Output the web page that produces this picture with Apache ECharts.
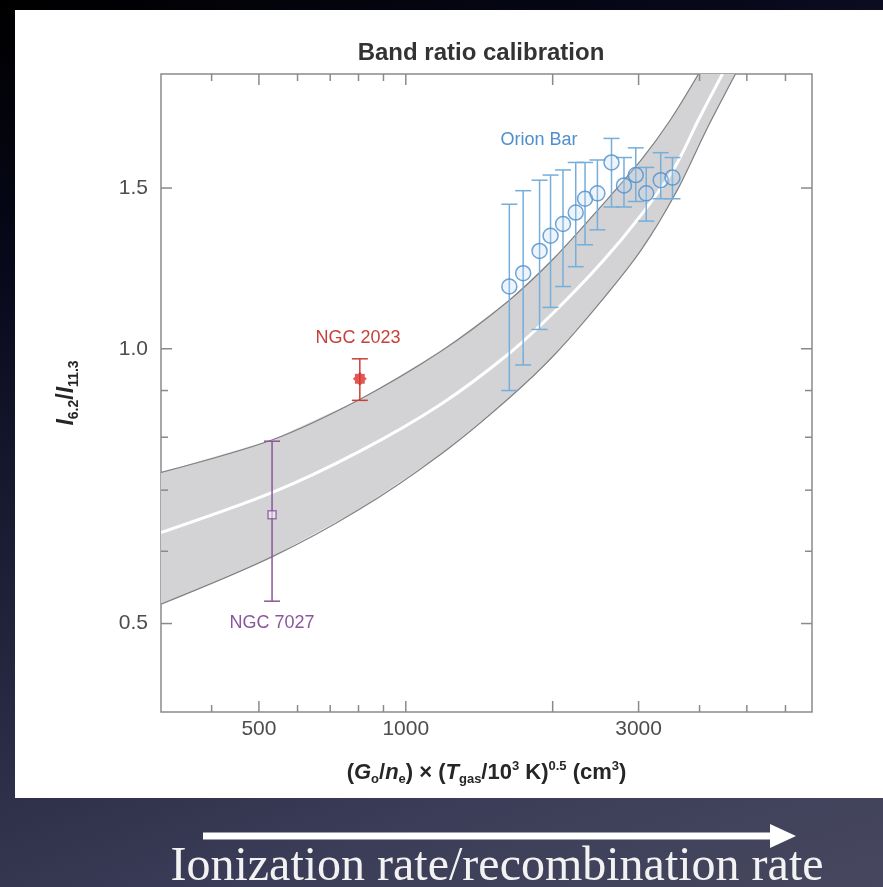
<!DOCTYPE html>
<html><head><meta charset="utf-8">
<script src="https://cdn.jsdelivr.net/npm/echarts@6/dist/echarts.min.js"></script>
<style>
html,body{margin:0;padding:0;width:883px;height:887px;overflow:hidden;}
body{background:linear-gradient(160deg,#000 0%,#07081a 22%,#1f2139 50%,#3b3c57 80%,#47485f 100%);}
#panel{position:absolute;left:15px;top:10px;width:868px;height:788px;background:#fff;}
#chart{position:absolute;left:0;top:0;width:883px;height:887px;}
</style></head>
<body><div id="panel"></div><div id="chart"></div>
<script>
// ---- axes ----
const X_MIN = 315, X_MAX = 6800, Y_MIN = 0.4, Y_MAX = 2.0;
const xTicks = [400, 500, 600, 700, 800, 900, 1000, 2000, 3000, 4000, 5000, 6000];
const xMajorTicks = [500, 1000, 2000, 3000];
const xTickLabels = [500, 1000, 3000];
const yTicks = [0.5, 0.6, 0.7, 0.8, 0.9, 1.0, 1.5];
const yMajorTicks = [0.5, 1.0, 1.5];
const yTickLabels = [0.5, 1.0, 1.5];

// ---- calibration band ----
const upperX = [315, 533, 804, 1178, 1616, 2017, 2530, 3040, 3487, 3980];
const upperY = [0.732, 0.795, 0.880, 0.993, 1.126, 1.258, 1.438, 1.611, 1.782, 2.0];
const centerX = [315, 533, 804, 1178, 1616, 2017, 2530, 3040, 3554, 3980, 4456];
const centerY = [0.629, 0.696, 0.772, 0.869, 0.985, 1.098, 1.246, 1.403, 1.579, 1.782, 2.0];
const lowerX = [315, 533, 804, 1178, 1616, 2017, 2530, 3040, 3605, 4133, 4739];
const lowerY = [0.525, 0.592, 0.667, 0.766, 0.880, 0.985, 1.132, 1.284, 1.494, 1.738, 2.0];

// ---- Orion Bar ----
const orionX    = [1630, 1740, 1880, 1980, 2100, 2230, 2330, 2470, 2640, 2800, 2960, 3110, 3330, 3520];
const orionY    = [1.17, 1.21, 1.28, 1.33, 1.37, 1.41, 1.46, 1.48, 1.60, 1.51, 1.55, 1.48, 1.53, 1.54];
const orionLow  = [0.90, 0.96, 1.05, 1.11, 1.17, 1.23, 1.30, 1.35, 1.43, 1.43, 1.45, 1.38, 1.46, 1.46];
const orionHigh = [1.44, 1.49, 1.53, 1.55, 1.57, 1.60, 1.60, 1.61, 1.70, 1.62, 1.66, 1.58, 1.64, 1.62];

// ---- NGC 2023 ----
const ngc2023X = [805], ngc2023Y = [0.927], ngc2023Low = [0.878], ngc2023High = [0.975];
// ---- NGC 7027 ----
const ngc7027X = [532], ngc7027Y = [0.658], ngc7027Low = [0.529], ngc7027High = [0.792];

const AXIS_COLOR = '#8a8a8a';
const LABEL_COLOR = '#4d4d4d';
const FONT = '"Liberation Sans", Arial, sans-serif';
const STAR = 'path://M0,-10L2.87,-6.93L7.07,-7.07L6.93,-2.87L10,0L6.93,2.87L7.07,7.07L2.87,6.93L0,10L-2.87,6.93L-7.07,7.07L-6.93,2.87L-10,0L-6.93,-2.87L-7.07,-7.07L-2.87,-6.93Z';

function zip(a, b) { return a.map((v, i) => [v, b[i]]); }

function errorSeries(xs, ys, lo, hi, color, capW) {
  return {
    type: 'custom', silent: true, z: 4, clip: true,
    data: xs.map((x, i) => [x, ys[i], lo[i], hi[i]]),
    renderItem(params, api) {
      const x = api.value(0);
      const p1 = api.coord([x, api.value(2)]);
      const p2 = api.coord([x, api.value(3)]);
      const st = { stroke: color, lineWidth: 1.5 };
      return { type: 'group', children: [
        { type: 'line', shape: { x1: p1[0], y1: p1[1], x2: p2[0], y2: p2[1] }, style: st },
        { type: 'line', shape: { x1: p1[0] - capW / 2, y1: p1[1], x2: p1[0] + capW / 2, y2: p1[1] }, style: st },
        { type: 'line', shape: { x1: p2[0] - capW / 2, y1: p2[1], x2: p2[0] + capW / 2, y2: p2[1] }, style: st }
      ]};
    }
  };
}

const xTickSeries = {
  type: 'custom', silent: true, z: 6, clip: false,
  data: xTicks.map(v => [v, Y_MIN]),
  renderItem(params, api) {
    const v = api.value(0);
    const len = xMajorTicks.includes(v) ? 11 : 7;
    const b = api.coord([v, Y_MIN]), t = api.coord([v, Y_MAX]);
    const st = { stroke: AXIS_COLOR, lineWidth: 1.5 };
    const ch = [
      { type: 'line', shape: { x1: b[0], y1: b[1], x2: b[0], y2: b[1] - len }, style: st },
      { type: 'line', shape: { x1: t[0], y1: t[1], x2: t[0], y2: t[1] + len }, style: st }
    ];
    if (xTickLabels.includes(v)) {
      ch.push({ type: 'text', x: b[0], y: b[1] + 7, style: { text: String(v), fill: LABEL_COLOR,
        font: '21px ' + FONT, textAlign: 'center', textVerticalAlign: 'top' } });
    }
    return { type: 'group', children: ch };
  }
};

const yTickSeries = {
  type: 'custom', silent: true, z: 6, clip: false,
  data: yTicks.map(v => [X_MIN, v]),
  renderItem(params, api) {
    const v = api.value(1);
    const len = yMajorTicks.includes(v) ? 11 : 7;
    const l = api.coord([X_MIN, v]), r = api.coord([X_MAX, v]);
    const st = { stroke: AXIS_COLOR, lineWidth: 1.5 };
    const ch = [
      { type: 'line', shape: { x1: l[0], y1: l[1], x2: l[0] + len, y2: l[1] }, style: st },
      { type: 'line', shape: { x1: r[0], y1: r[1], x2: r[0] - len, y2: r[1] }, style: st }
    ];
    if (yTickLabels.includes(v)) {
      ch.push({ type: 'text', x: l[0] - 13, y: l[1], style: { text: v.toFixed(1), fill: LABEL_COLOR,
        font: '21px ' + FONT, textAlign: 'right', textVerticalAlign: 'middle' } });
    }
    return { type: 'group', children: ch };
  }
};

const bandSeries = {
  type: 'custom', silent: true, z: 1, clip: true,
  data: [[upperX[0], upperY[0]]],
  renderItem(params, api) {
    const up = upperX.map((x, i) => api.coord([x, upperY[i]]));
    const lo = lowerX.map((x, i) => api.coord([x, lowerY[i]]));
    const ce = centerX.map((x, i) => api.coord([x, centerY[i]]));
    return { type: 'group', children: [
      { type: 'polygon', shape: { points: up.concat(lo.slice().reverse()) }, style: { fill: '#d3d3d5' } },
      { type: 'polyline', shape: { points: up, smooth: 0.3 }, style: { stroke: '#808080', lineWidth: 1.2, fill: null } },
      { type: 'polyline', shape: { points: lo, smooth: 0.3 }, style: { stroke: '#808080', lineWidth: 1.2, fill: null } },
      { type: 'polyline', shape: { points: ce, smooth: 0.3 }, style: { stroke: '#ffffff', lineWidth: 3, fill: null } }
    ]};
  }
};

const baseAxis = {
  type: 'log', logBase: 10,
  axisLine: { show: false }, axisTick: { show: false }, axisLabel: { show: false }, splitLine: { show: false }
};

const NAME_COLOR = '#262626';
const option = {
  animation: false,
  title: {
    text: 'Band ratio calibration', left: 476, top: 36, textAlign: 'center',
    textStyle: { fontFamily: FONT, fontWeight: 'bold', fontSize: 24, color: '#333' }
  },
  grid: { left: 161, top: 74, width: 651, height: 638, show: true, borderColor: AXIS_COLOR, borderWidth: 1.5, backgroundColor: 'transparent' },
  xAxis: Object.assign({}, baseAxis, {
    min: X_MIN, max: X_MAX,
    name: '{n|(}{i|G}{s|o}{n|/}{i|n}{s|e}{n|) × (}{i|T}{s|gas}{n|/10}{p|3}{n| K)}{p|0.5}{n| (cm}{p|3}{n|)}',
    nameLocation: 'middle', nameGap: 48,
    nameTextStyle: {
      color: NAME_COLOR, fontFamily: FONT, fontSize: 22,
      rich: {
        n: { fontSize: 22, fontWeight: 'bold', fontFamily: FONT, color: NAME_COLOR, lineHeight: 26 },
        i: { fontSize: 22, fontWeight: 'bold', fontFamily: FONT, fontStyle: 'italic', color: NAME_COLOR, lineHeight: 26 },
        s: { fontSize: 13, fontWeight: 'bold', fontFamily: FONT, color: NAME_COLOR, verticalAlign: 'bottom', lineHeight: 13 },
        p: { fontSize: 13, fontWeight: 'bold', fontFamily: FONT, color: NAME_COLOR, verticalAlign: 'top', lineHeight: 13 }
      }
    }
  }),
  yAxis: Object.assign({}, baseAxis, {
    min: Y_MIN, max: Y_MAX,
    name: '{i|I}{s|6.2}{n|/}{i|I}{s|11.3}',
    nameLocation: 'middle', nameGap: 80,
    nameTextStyle: {
      color: NAME_COLOR, fontFamily: FONT, fontSize: 23,
      rich: {
        n: { fontSize: 23, fontWeight: 'bold', fontFamily: FONT, color: NAME_COLOR, lineHeight: 28 },
        i: { fontSize: 23, fontWeight: 'bold', fontFamily: FONT, fontStyle: 'italic', color: NAME_COLOR, lineHeight: 28 },
        s: { fontSize: 14, fontWeight: 'bold', fontFamily: FONT, color: NAME_COLOR, verticalAlign: 'bottom', lineHeight: 13 }
      }
    }
  }),
  series: [
    bandSeries,
    errorSeries(orionX, orionY, orionLow, orionHigh, '#74aedb', 16),
    errorSeries(ngc2023X, ngc2023Y, ngc2023Low, ngc2023High, '#c8403a', 16),
    errorSeries(ngc7027X, ngc7027Y, ngc7027Low, ngc7027High, '#8a559c', 16),
    { type: 'scatter', name: 'Orion Bar', z: 5, data: zip(orionX, orionY), symbol: 'circle', symbolSize: 15,
      itemStyle: { color: 'rgba(190,215,240,0.35)', borderColor: '#4f8fcb', borderWidth: 1.5 } },
    { type: 'scatter', name: 'NGC 2023', z: 5, data: zip(ngc2023X, ngc2023Y), symbol: STAR, symbolSize: 14,
      itemStyle: { color: '#d8302a' } },
    { type: 'scatter', name: 'NGC 7027', z: 5, data: zip(ngc7027X, ngc7027Y), symbol: 'rect', symbolSize: 8,
      itemStyle: { color: 'rgba(255,255,255,0.6)', borderColor: '#8a559c', borderWidth: 1.5 } },
    xTickSeries,
    yTickSeries
  ],
  graphic: [
    { type: 'text', x: 539, y: 140, style: { text: 'Orion Bar', fill: '#4f8fcb', font: '18px ' + FONT, textAlign: 'center', textVerticalAlign: 'middle' } },
    { type: 'text', x: 358, y: 338, style: { text: 'NGC 2023', fill: '#c8403a', font: '18px ' + FONT, textAlign: 'center', textVerticalAlign: 'middle' } },
    { type: 'text', x: 272, y: 623, style: { text: 'NGC 7027', fill: '#8a559c', font: '18px ' + FONT, textAlign: 'center', textVerticalAlign: 'middle' } },
    { type: 'line', shape: { x1: 203, y1: 836, x2: 774, y2: 836 }, style: { stroke: '#ffffff', lineWidth: 7 } },
    { type: 'polygon', shape: { points: [[770, 824], [796, 836], [770, 848]] }, style: { fill: '#ffffff' } },
    { type: 'text', x: 497, y: 867, style: { text: 'Ionization rate/recombination rate', fill: '#f2f2f2',
      font: '48px "Liberation Serif", "Times New Roman", serif', textAlign: 'center', textVerticalAlign: 'middle' } }
  ]
};

const chart = echarts.init(document.getElementById('chart'));
chart.setOption(option);
</script>
</body></html>
